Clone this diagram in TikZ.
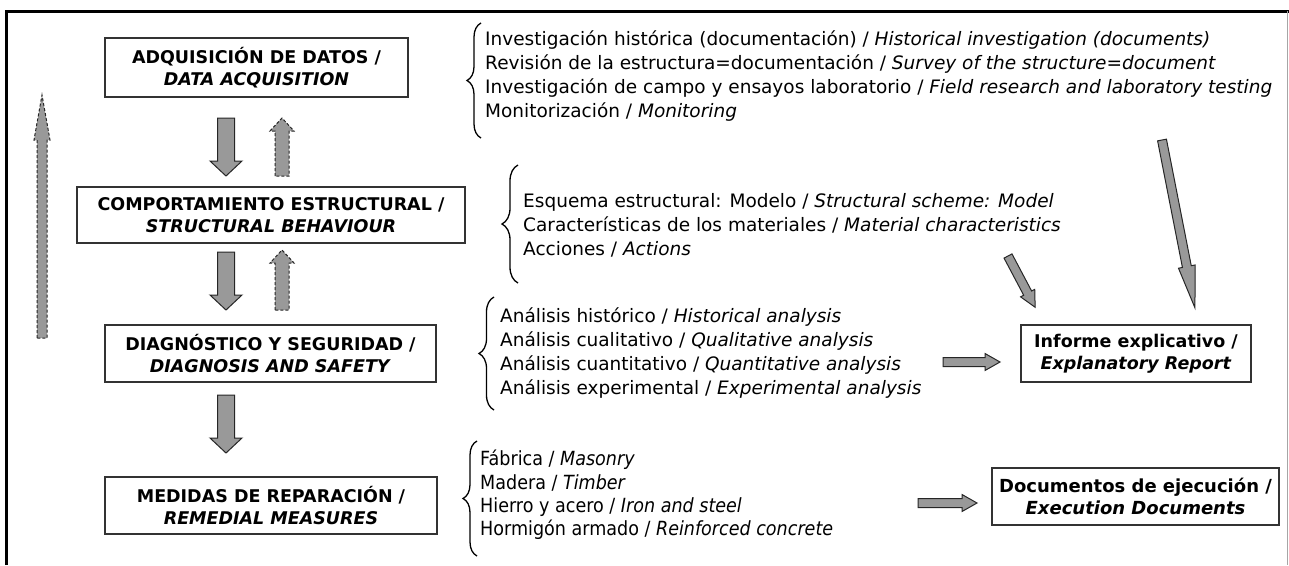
\documentclass[tikz,border=0pt]{standalone}
\usepackage{fontspec}
\setmainfont{DejaVu Sans}
\newfontfamily\condfont[FakeStretch=0.9]{DejaVu Sans}
\usetikzlibrary{decorations.pathreplacing}
\tikzset{
  box/.style={draw=black!80, line width=1.3pt, fill=white, inner sep=0pt, align=center,
    font=\fontsize{17.5}{22}\selectfont\bfseries},
  listtext/.style={anchor=west, align=left, inner sep=0pt, font=\fontsize{18.5}{24}\selectfont},
  brc/.style={decorate, decoration={brace, amplitude=#1}, line width=1.3pt},
  solidarrow/.style={draw=black!85, fill=black!40, line width=1pt, line join=miter},
  dasharrow/.style={draw=black!85, fill=black!40, line width=1pt, densely dashed},
}
% \barrow{style}{tail}{angle}{length}{shaft half width}{head half width}{head length}
\newcommand\barrow[7]{\draw[#1, shift={(#2)}, rotate=#3] (0,-#5) -- ({#4-#7},-#5) -- ({#4-#7},-#6) -- (#4,0) -- ({#4-#7},#6) -- ({#4-#7},#5) -- (0,#5) -- cycle;}
\begin{document}
\begin{tikzpicture}[x=1pt,y=-1pt]
\useasboundingbox (0,0) rectangle (1289,565);
% frame
\draw[line width=3pt] (6,565) -- (6,11) -- (1289,11);
\draw[black!35, line width=0.8pt] (1287,11) -- (1287,565);

% main boxes
\node[box, minimum width=303, minimum height=59] (b1) at (256.5,67.5)
  {ADQUISICIÓN DE DATOS /\\ \textit{DATA ACQUISITION}};
\node[box, minimum width=388, minimum height=56] (b2) at (271,215)
  {COMPORTAMIENTO ESTRUCTURAL /\\ \textit{STRUCTURAL BEHAVIOUR}};
\node[box, minimum width=331, minimum height=57] (b3) at (270.5,353.5)
  {DIAGNÓSTICO Y SEGURIDAD /\\ \textit{DIAGNOSIS AND SAFETY}};
\node[box, minimum width=332, minimum height=57] (b4) at (271,505.5)
  {MEDIDAS DE REPARACIÓN /\\ \textit{REMEDIAL MEASURES}};
\node[box, minimum width=230, minimum height=57] (inf) at (1136,353.5)
  {Informe explicativo /\\ \textit{Explanatory Report}};
\node[box, minimum width=287, minimum height=57, font=\fontsize{18}{22}\selectfont\bfseries] (doc) at (1135.5,496.5)
  {Documentos de ejecución /\\ \textit{Execution Documents}};

% vertical block arrows
\coordinate (d1) at (226,118);
\coordinate (u1) at (282,176);
\coordinate (d2) at (226,252);
\coordinate (u2) at (282,310);
\coordinate (d3) at (226,395);
\coordinate (lu) at (42,338);
\barrow{solidarrow}{d1}{-90}{58}{8.5}{16}{15}
\barrow{dasharrow}{u1}{90}{58}{7}{12}{13}
\barrow{solidarrow}{d2}{-90}{58}{8.5}{16}{15}
\barrow{dasharrow}{u2}{90}{60}{7}{12}{13}
\barrow{solidarrow}{d3}{-90}{58}{8.5}{16}{15}
\barrow{dasharrow}{lu}{90}{243}{5}{8}{45}

% lists with braces
\draw[brc=14] (481,138) -- (481,23);
\node[listtext] (l1) at (485,76) {Investigación histórica (documentación) / \textit{Historical investigation (documents)}\\
Revisión de la estructura=documentación / \textit{Survey of the structure=document}\\
Investigación de campo y ensayos laboratorio / \textit{Field research and laboratory testing}\\
Monitorización / \textit{Monitoring}};

\draw[brc=16] (518,283) -- (518,165);
\node[listtext] (l2) at (523,225) {Esquema estructural: Modelo / \textit{Structural scheme: Model}\\
Características de los materiales / \textit{Material characteristics}\\
Acciones / \textit{Actions}};

\draw[brc=15] (494,410) -- (494,297);
\node[listtext] (l3) at (500,353) {Análisis histórico / \textit{Historical analysis}\\
Análisis cualitativo / \textit{Qualitative analysis}\\
Análisis cuantitativo / \textit{Quantitative analysis}\\
Análisis experimental / \textit{Experimental analysis}};

\draw[brc=14] (477,556) -- (477,441);
\node[listtext, font=\fontsize{19.5}{23.3}\selectfont\condfont] (l4) at (480,495) {Fábrica / \textit{Masonry}\\
Madera / \textit{Timber}\\
Hierro y acero / \textit{Iron and steel}\\
Hormigón armado / \textit{Reinforced concrete}};

% arrows toward report boxes
\coordinate (r1) at (943,362);
\coordinate (r2) at (918,503);
\coordinate (ds) at (1008,256);
\coordinate (dl) at (1162,140);
\barrow{solidarrow}{r1}{0}{57}{4.5}{8.5}{15}
\barrow{solidarrow}{r2}{0}{59}{4.5}{8.5}{15}
\barrow{solidarrow}{ds}{-62.1}{58}{4.5}{8}{16}
\barrow{solidarrow}{dl}{-78.9}{171}{4.5}{8.5}{42}
\end{tikzpicture}
\end{document}
